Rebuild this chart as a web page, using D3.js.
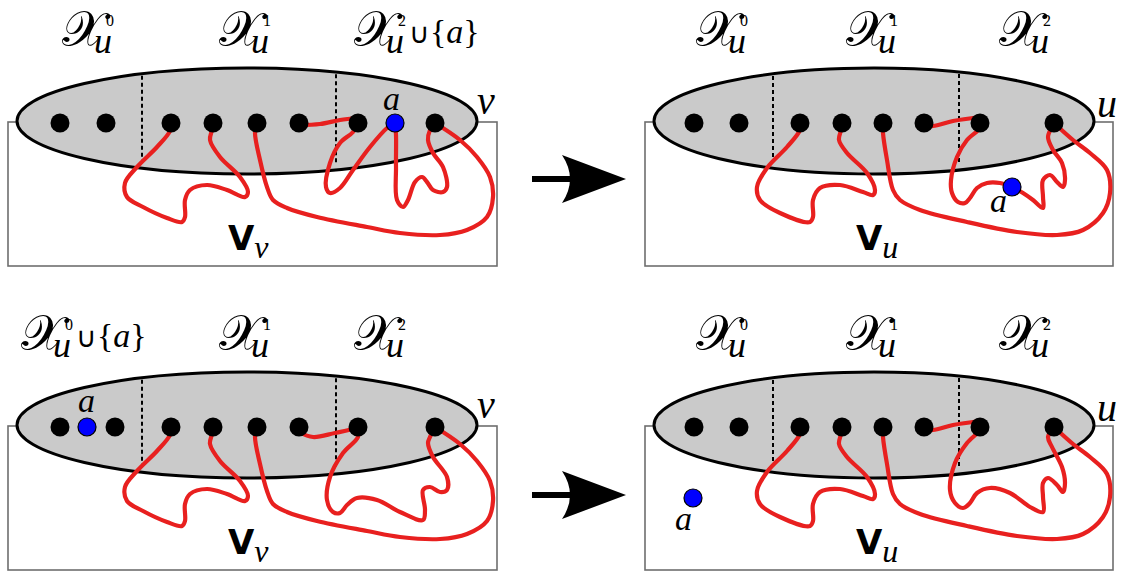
<!DOCTYPE html>
<html><head><meta charset="utf-8">
<script src="https://cdn.jsdelivr.net/npm/d3@7/dist/d3.min.js"></script>
<style>html,body{margin:0;padding:0;background:#fff;}svg{display:block;}</style>
</head><body>
<svg id="c" width="1145" height="572"></svg>
<script>
// ---------- data (row-local diagram coordinates) ----------
const rowOffsets = [0, 304];
const arrowCenters = [[532, 179], [532, 495]];
const leftNodesX = [60, 106, 171, 213, 257, 299, 358, 435];
const leftNodesXRow2 = [60, 115, 171, 213, 257, 299, 358, 435];
const rightNodesX = [694, 739, 800, 842, 883, 924, 980, 1054];
const nodeY = 123;
const leftEllipse = [247, 121, 230, 53];
const rightEllipse = [874, 121, 220, 53];
const leftBox = [8, 122, 497, 266];
const rightBox = [645, 122, 1113, 266];
const leftDashes = [142, 336];
const rightDashes = [773, 959];

const leftEdgeA = [[171,123],[170,131],[157,147],[137,167],[125,183],[127,197],[143,207],[167,218],[182,222],[185,217],[185,200],[190,190],[207,185],[227,190],[245,197],[248,192],[240,177],[220,157],[210,140],[212,130],[213,123]];
const leftEdgeB = [[257,123],[255,133],[260,160],[267,187],[273,200],[287,208],[317,217],[367,227],[400,233],[440,235],[467,230],[487,217],[493,197],[490,177],[477,157],[460,140],[435,123]];
const leftEdgeC1 = [[299,125],[320,124],[340,120],[358,118]];
const leftEdgeC2 = [[299,128],[313,133],[335,129],[358,124]];
const leftEdgeD1 = [[358,123],[353,132],[340,143],[330,163],[326,187],[330,193],[340,188],[353,170],[370,147],[387,128],[395,123]];
const leftEdgeE1 = [[395,123],[396,135],[396,167],[397,200],[403,207],[408,200],[415,182],[422,177],[427,182],[433,190],[443,192],[447,187],[443,167],[433,153],[428,140],[430,130],[435,123]];
const leftEdgeD2 = [[358,123],[358,133],[343,149],[330,173],[327,196],[333,208],[340,209],[347,201],[357,194],[377,196],[400,208],[423,216],[425,206],[423,186],[430,183],[440,188],[447,186],[447,173],[433,153],[428,139],[430,133],[435,123]];

const rightEdgeA = [[800,123],[800,130],[787,147],[767,168],[757,187],[760,200],[780,213],[810,222],[813,217],[813,200],[820,188],[840,185],[863,192],[873,195],[875,190],[867,173],[847,153],[839,140],[841,130],[842,123]];
const rightEdgeB = [[883,123],[883,133],[887,160],[893,190],[900,200],[920,210],[967,222],[1017,232],[1057,235],[1083,230],[1103,213],[1110,193],[1107,170],[1090,153],[1073,140],[1054,123]];
const rightEdgeC = [[924,125],[933,126],[953,121],[980,117]];
const rightEdgeD1 = [[980,123],[980,128],[967,140],[957,157],[951,180],[952,193],[958,202],[965,203],[970,198],[977,188],[987,183],[1000,183],[1012,187]];
const rightEdgeE1 = [[1012,187],[1023,193],[1033,200],[1043,208],[1043,197],[1043,180],[1050,175],[1057,182],[1063,187],[1065,180],[1062,163],[1053,150],[1048,137],[1053,125],[1054,123]];
const rightEdgeD2 = [[980,123],[980,126],[967,139],[955,159],[950,186],[955,199],[963,204],[970,199],[977,189],[990,184],[1010,189],[1030,203],[1043,208],[1043,193],[1043,179],[1048,174],[1057,181],[1063,188],[1065,179],[1062,163],[1052,143],[1048,133],[1054,123]];

const bluePoints = [[395,123],[1012,187],[87,123],[693,194]];
const blueLabels = [[383,110],[990,212],[78,108],[675,226]];
const setLabelsX = [[63, 220, 355], [697, 847, 1000], [22, 220, 355], [697, 847, 1000]];
const supDigits = ["0", "1", "2"];
const unionPos = [2, -1, 0, -1]; // which label in each panel carries "∪{a}"
const vertexNames = ["ν", "u", "ν", "u"];
const vertexLabelPos = [[477,114],[1097,117],[477,114],[1097,117]];
const boxLabelsX = [228, 856, 228, 856];
const labelBaseline = 45;
const boxLabelBaseline = 250;

// ---------- panels ----------
const panels = [
  {row:0, side:"L", nodes:leftNodesX, edges:[leftEdgeA,leftEdgeB,leftEdgeC1,leftEdgeD1,leftEdgeE1]},
  {row:0, side:"R", nodes:rightNodesX, edges:[rightEdgeA,rightEdgeB,rightEdgeC,rightEdgeD1,rightEdgeE1]},
  {row:1, side:"L", nodes:leftNodesXRow2, edges:[leftEdgeA,leftEdgeB,leftEdgeC2,leftEdgeD2]},
  {row:1, side:"R", nodes:rightNodesX, edges:[rightEdgeA,rightEdgeB,rightEdgeC,rightEdgeD2]}
];

const svg = d3.select("#c");
const x = d3.scaleLinear().domain([0, 1145]).range([0, 1145]);
const yRow = r => d3.scaleLinear().domain([0, 286]).range([rowOffsets[r], rowOffsets[r] + 286]);

const red = "#e8201f";
const serif = "'Liberation Serif','DejaVu Serif',serif";

panels.forEach((p, i) => {
  const y = yRow(p.row);
  const g = svg.append("g");
  const box = p.side === "L" ? leftBox : rightBox;
  const ell = p.side === "L" ? leftEllipse : rightEllipse;
  const dashes = p.side === "L" ? leftDashes : rightDashes;

  g.append("rect").attr("x", x(box[0])).attr("y", y(box[1]))
    .attr("width", x(box[2]) - x(box[0])).attr("height", y(box[3]) - y(box[1]))
    .attr("fill", "#fff").attr("stroke", "#6e6e6e").attr("stroke-width", 1.6);

  g.append("ellipse").attr("cx", x(ell[0])).attr("cy", y(ell[1]))
    .attr("rx", ell[2]).attr("ry", ell[3])
    .attr("fill", "#cacaca").attr("stroke", "#000").attr("stroke-width", 3);

  dashes.forEach(dx => {
    const t = (dx - ell[0]) / ell[2];
    const h = ell[3] * Math.sqrt(1 - t * t);
    g.append("line").attr("x1", x(dx)).attr("x2", x(dx))
      .attr("y1", y(ell[1] - h + 2)).attr("y2", y(ell[1] + h - 5))
      .attr("stroke", "#000").attr("stroke-width", 2).attr("stroke-dasharray", "4,3");
  });

  const line = d3.line().x(d => x(d[0])).y(d => y(d[1])).curve(d3.curveCatmullRom.alpha(0.5));
  g.selectAll("path.edge").data(p.edges).enter().append("path")
    .attr("class", "edge").attr("d", line)
    .attr("fill", "none").attr("stroke", red).attr("stroke-width", 4.2)
    .attr("stroke-linecap", "round").attr("stroke-linejoin", "round");

  g.selectAll("circle.node").data(p.nodes).enter().append("circle")
    .attr("class", "node").attr("cx", d => x(d)).attr("cy", y(nodeY)).attr("r", 9.5).attr("fill", "#000");

  const b = bluePoints[i];
  g.append("circle").attr("cx", x(b[0])).attr("cy", y(b[1])).attr("r", 9)
    .attr("fill", "#0000ff").attr("stroke", "#000").attr("stroke-width", 1.2);
  const bl = blueLabels[i];
  g.append("text").attr("x", x(bl[0])).attr("y", y(bl[1])).text("a")
    .attr("font-family", serif).attr("font-style", "italic").attr("font-size", 34);

  // vertex name
  const vp = vertexLabelPos[i];
  g.append("text").attr("x", x(vp[0])).attr("y", y(vp[1])).text(vertexNames[i])
    .attr("font-family", serif).attr("font-style", "italic").attr("font-size", 40);

  // set labels: one text element each, parts as tspans
  setLabelsX[i].forEach((lx, k) => {
    const bx = x(lx), by = y(labelBaseline);
    const t = g.append("text").attr("x", bx).attr("y", by).attr("font-family", serif);
    t.append("tspan").attr("x", bx - 1).attr("y", by + 1).text("𝒳")
      .attr("font-family", "'DejaVu Serif',serif").attr("font-size", 50);
    t.append("tspan").attr("x", bx + 31).attr("y", by + 8).text("u")
      .attr("font-style", "italic").attr("font-size", 36);
    t.append("tspan").attr("x", bx + 43).attr("y", by - 19).text(supDigits[k])
      .attr("font-size", 16);
    if (unionPos[i] === k) {
      t.append("tspan").attr("x", bx + 54).attr("y", by - 2).text("∪")
        .attr("font-family", "'DejaVu Sans',sans-serif").attr("font-size", 28);
      t.append("tspan").attr("x", bx + 75).attr("y", by - 2).text("{").attr("font-size", 34);
      t.append("tspan").attr("font-style", "italic").attr("font-size", 34).text("a");
      t.append("tspan").attr("font-size", 34).text("}");
    }
  });

  // box label
  const vb = g.append("text").attr("x", x(boxLabelsX[i])).attr("y", y(boxLabelBaseline));
  vb.append("tspan").text("V").attr("font-family", "'DejaVu Sans',sans-serif")
    .attr("font-weight", "bold").attr("font-size", 34);
  vb.append("tspan").text(vertexNames[i]).attr("dy", 8).attr("font-family", serif)
    .attr("font-style", "italic").attr("font-size", 32);
});

// arrows
arrowCenters.forEach(([ax, ay]) => {
  svg.append("line").attr("x1", x(ax)).attr("x2", x(ax + 40)).attr("y1", ay).attr("y2", ay)
    .attr("stroke", "#000").attr("stroke-width", 6);
  const p = d3.path();
  p.moveTo(x(ax + 94), ay);
  p.lineTo(x(ax + 30), ay - 24);
  p.quadraticCurveTo(x(ax + 46), ay, x(ax + 30), ay + 24);
  p.closePath();
  svg.append("path").attr("d", p.toString()).attr("fill", "#000");
});
</script>
</body></html>
